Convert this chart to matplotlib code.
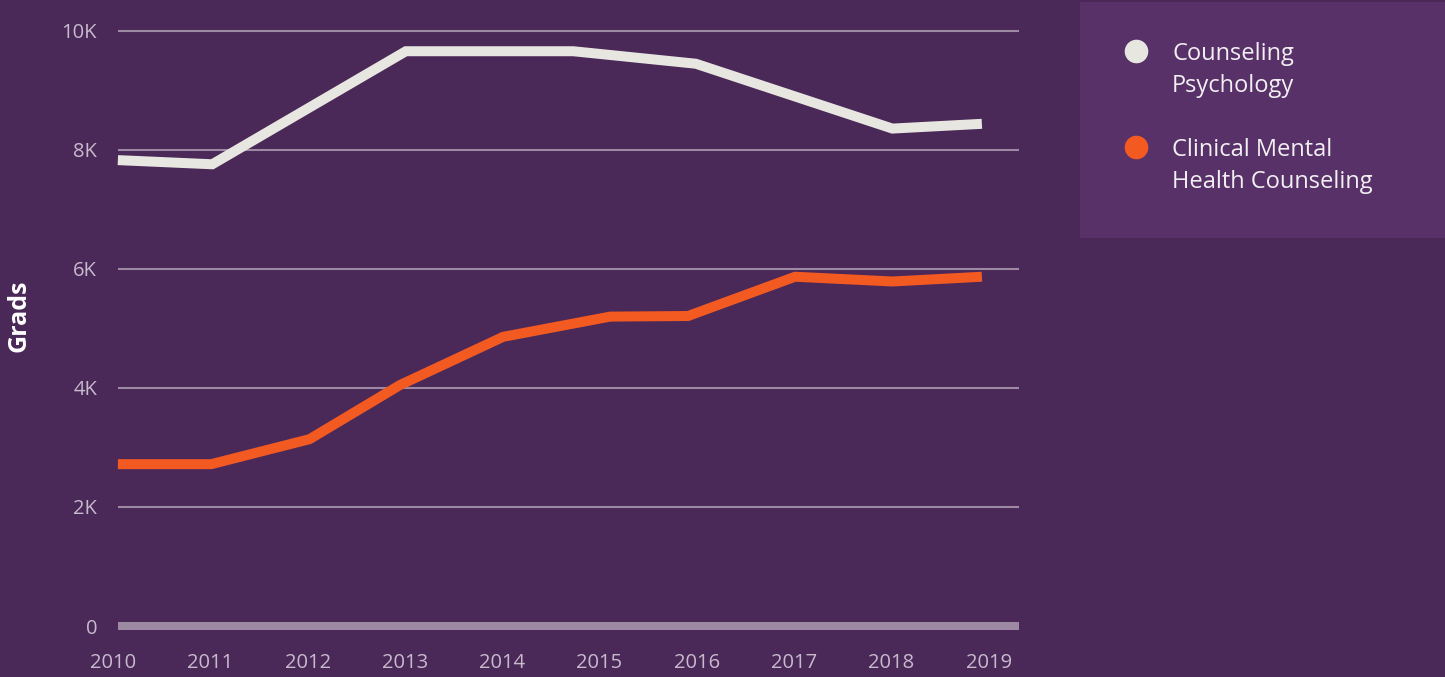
import matplotlib
matplotlib.use("Agg")
import matplotlib.pyplot as plt
from matplotlib.patches import Rectangle
from matplotlib.lines import Line2D

plt.rcParams['font.family'] = ['Open Sans', 'DejaVu Sans']

# graduates per year (x in fractional years, as plotted)
series_names = ["Counseling\nPsychology", "Clinical Mental\nHealth Counseling"]
cp_x = [2010.05, 2011.02, 2013.01, 2014.73, 2015.99, 2018.01, 2018.93]
cp_y = [7830, 7760, 9660, 9660, 9450, 8360, 8440]
cmhc_x = [2010.05, 2011.01, 2012.02, 2012.95, 2014.01, 2015.11, 2015.91, 2017.01, 2018.01, 2018.93]
cmhc_y = [2720, 2720, 3140, 4050, 4860, 5200, 5210, 5870, 5790, 5870]

years = list(range(2010, 2020))
y_ticks = [0, 2000, 4000, 6000, 8000, 10000]
y_tick_labels = ["0", "2K", "4K", "6K", "8K", "10K"]

BG = "#4a2858"
PANEL = "#573168"
GRID = "#9e89a5"
TICK = "#c8bacd"
colors = ["#e8e6e1", "#f25a22"]

W, H = 1445, 677
fig = plt.figure(figsize=(W / 100, H / 100), dpi=100, facecolor=BG)

ax = fig.add_axes([118 / W, 1 - 626 / H, 901 / W, 595 / H])
ax.set_facecolor(BG)
ax.set_xlim(2010.0514, 2019.3114)
ax.set_ylim(0, 10000)
for s in ax.spines.values():
    s.set_visible(False)

# horizontal grid, baseline drawn heavier
for v in y_ticks:
    lw = 5.8 if v == 0 else 1.5
    ax.axhline(v, color=GRID, lw=lw, zorder=1, clip_on=False, solid_capstyle='butt')

ax.set_xticks([])
ax.set_yticks(y_ticks)
ax.set_yticklabels(y_tick_labels)
ax.tick_params(axis='y', length=0, pad=15, labelsize=14.5, labelcolor=TICK)

for yr in years:
    ax.text(yr, -0.062, str(yr), transform=ax.get_xaxis_transform(),
            ha='center', va='center', fontsize=14.5, color=TICK, clip_on=False)

ax.plot(cp_x, cp_y, color=colors[0], lw=7.2, solid_capstyle='butt',
        solid_joinstyle='miter', zorder=3, clip_on=False)
ax.plot(cmhc_x, cmhc_y, color=colors[1], lw=7.2, solid_capstyle='butt',
        solid_joinstyle='miter', zorder=3, clip_on=False)

fig.text(19 / W, 1 - 316 / H, "Grads", rotation=90, ha='center', va='center',
         fontsize=18, fontweight='bold', color='white')

# legend panel
fig.add_artist(Rectangle((1080 / W, 1 - 238 / H), 365 / W, 236 / H,
                         transform=fig.transFigure, facecolor=PANEL, edgecolor='none'))
for i, name in enumerate(series_names):
    cy = 51 + 96 * i
    fig.add_artist(Line2D([1136 / W], [1 - cy / H], marker='o', markersize=17,
                          color=colors[i], markeredgewidth=0, linestyle='none',
                          transform=fig.transFigure))
    fig.text(1172 / W, 1 - (cy + 19) / H, name, ha='left', va='center',
             fontsize=17, color='#f2eff2', linespacing=1.45)

fig.savefig("out.png", dpi=100, facecolor=BG)
